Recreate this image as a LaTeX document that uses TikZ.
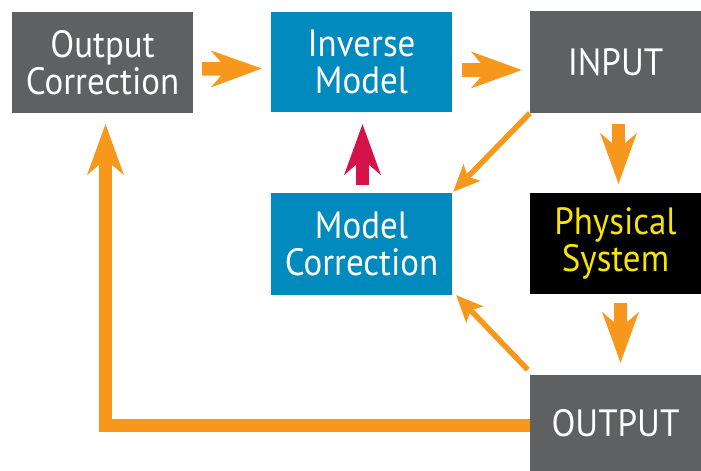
\documentclass[tikz,border=0pt]{standalone}
\usepackage{fontspec}
\setmainfont{PT Sans}[FakeStretch=0.92]
\usetikzlibrary{arrows.meta}
\definecolor{boxgray}{RGB}{95,96,98}
\definecolor{boxblue}{RGB}{0,138,190}
\definecolor{arrorange}{RGB}{247,152,29}
\definecolor{arrred}{RGB}{213,19,74}
\definecolor{txtyellow}{RGB}{247,228,0}
\tikzset{
  blk/.style={rectangle, inner sep=0pt, minimum width=#1, text=white,
    align=center, font=\fontsize{38bp}{37bp}\selectfont},
  graybox/.style={blk=#1, fill=boxgray},
  bluebox/.style={blk=#1, fill=boxblue},
  blackbox/.style={blk=#1, fill=black, text=txtyellow},
  bigarrow/.style={line width=13.5bp, draw=arrorange,
    -{Stealth[length=51bp, width=37bp, inset=16bp, line width=0pt]}},
  redarrow/.style={bigarrow, draw=arrred},
  thinarrow/.style={line width=5.5bp, draw=arrorange,
    -{Stealth[length=27bp, width=24bp, inset=6bp, line width=0pt]}},
}
\begin{document}
\begin{tikzpicture}[x=1bp,y=-1bp]
\useasboundingbox (0,0) rectangle (701,471);
\node[graybox=181bp, minimum height=101bp] (outc) at (102.5,62.5) {Output\\Correction};
\node[bluebox=181bp, minimum height=100bp] (inv) at (361.5,62) {Inverse\\Model};
\node[graybox=171bp, minimum height=102bp] (input) at (615.5,62) {INPUT};
\node[bluebox=181bp, minimum height=102bp] (modc) at (361.5,244) {Model\\Correction};
\node[blackbox=171bp, minimum height=101bp] (phys) at (615.5,243.5) {Physical\\System};
\node[graybox=171bp, minimum height=96bp] (output) at (615.5,423) {OUTPUT};

\draw[bigarrow] ([shift={(9,6.5)}]outc.east) -- ([shift={(-9,6.5)}]inv.west);
\draw[bigarrow] ([shift={(10,8)}]inv.east) -- ([shift={(-8,8)}]input.west);
\draw[bigarrow] ([shift={(3,11)}]input.south) -- ([shift={(3,-9)}]phys.north);
\draw[bigarrow] ([shift={(5,9)}]phys.south) -- ([shift={(5,-12)}]output.north);
\draw[redarrow] ([shift={(1,-8)}]modc.north) -- ([shift={(1,12)}]inv.south);
\draw[thinarrow] ([shift={(0,0)}]input.south west) -- ([shift={(1,-1)}]modc.north east);
\draw[thinarrow] ([shift={(-2,-5)}]output.north west) -- ([shift={(4,0)}]modc.south east);
\draw[bigarrow, line join=miter] ([shift={(0,2.5)}]output.west) -| ([shift={(3,11)}]outc.south);
\end{tikzpicture}
\end{document}
